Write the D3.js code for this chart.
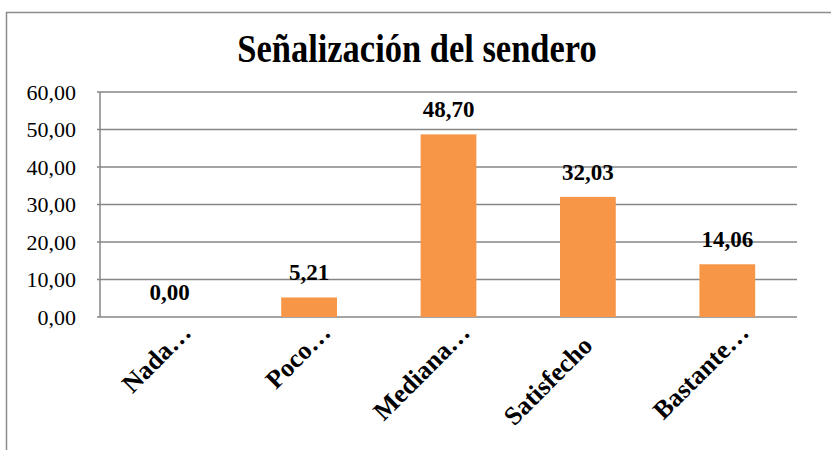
<!DOCTYPE html>
<html>
<head>
<meta charset="utf-8">
<script src="https://cdn.jsdelivr.net/npm/d3@7"></script>
<style>
  body { margin: 0; background: #fff; }
  svg { display: block; }
  svg text { font-family: "Liberation Serif", "DejaVu Serif", serif; }
</style>
</head>
<body>
<script>
// data
const categories = ["Nada…", "Poco…", "Mediana…", "Satisfecho", "Bastante…"];
const values = [0.00, 5.21, 48.70, 32.03, 14.06];
const yTicks = [0, 10, 20, 30, 40, 50, 60];
const title = "Señalización del sendero";

const width = 831, height = 450;
const margin = { top: 92, right: 34, bottom: 133, left: 100 };
const fmt = v => d3.format(".2f")(v).replace(".", ",");

const svg = d3.select("body").append("svg")
    .attr("width", width)
    .attr("height", height);

// outer chart border (runs off the window right and bottom)
svg.append("rect")
    .attr("x", 6.5).attr("y", 12.5)
    .attr("width", width).attr("height", height)
    .attr("fill", "none")
    .attr("stroke", "#8c8c8c")
    .attr("stroke-width", 1.5);

// title is a bit taller than wide in the original, stretch it a little
svg.append("text")
    .attr("transform", "translate(417,62) scale(1,1.15)")
    .attr("text-anchor", "middle")
    .style("font-size", "34.5px")
    .style("font-weight", "bold")
    .text(title);

const x = d3.scaleBand()
    .domain(categories)
    .range([margin.left, width - margin.right])
    .paddingInner(0.6)
    .paddingOuter(0.3);

const y = d3.scaleLinear()
    .domain([0, 60])
    .range([height - margin.bottom, margin.top]);

// gridlines
svg.append("g")
    .selectAll("line")
    .data(yTicks)
    .join("line")
    .attr("x1", margin.left - 3)
    .attr("x2", width - margin.right)
    .attr("y1", d => y(d))
    .attr("y2", d => y(d))
    .attr("stroke", "#868686")
    .attr("stroke-width", 1.5);

// value axis line
svg.append("line")
    .attr("x1", margin.left).attr("x2", margin.left)
    .attr("y1", y(60)).attr("y2", y(0))
    .attr("stroke", "#868686")
    .attr("stroke-width", 1.5);

// y tick labels
svg.append("g")
    .selectAll("text")
    .data(yTicks)
    .join("text")
    .attr("x", 76)
    .attr("y", d => y(d) + 7.5)
    .attr("text-anchor", "end")
    .style("font-size", "22px")
    .text(fmt);

// bars
svg.append("g")
    .selectAll("rect")
    .data(values)
    .join("rect")
    .attr("x", (d, i) => x(categories[i]))
    .attr("y", d => y(d))
    .attr("width", x.bandwidth())
    .attr("height", d => y(0) - y(d))
    .attr("fill", "#f79646");

// value labels
svg.append("g")
    .selectAll("text")
    .data(values)
    .join("text")
    .attr("x", (d, i) => x(categories[i]) + x.bandwidth() / 2)
    .attr("y", d => y(d) - 17)
    .attr("text-anchor", "middle")
    .style("font-size", "23px")
    .style("font-weight", "bold")
    .text(fmt);

// category labels, rotated; cut labels (two-line in the source) sit a bit higher
svg.append("g")
    .selectAll("text")
    .data(categories)
    .join("text")
    .attr("transform", d => {
        const cut = d.endsWith("…");
        const cx = x(d) + x.bandwidth() / 2 + (cut ? 23 : 6);
        const cy = y(0) + (cut ? 17 : 30);
        return `translate(${cx},${cy}) rotate(-45)`;
    })
    .attr("text-anchor", "end")
    .style("font-size", "26px")
    .style("font-weight", "bold")
    .text(d => d);
</script>
</body>
</html>
